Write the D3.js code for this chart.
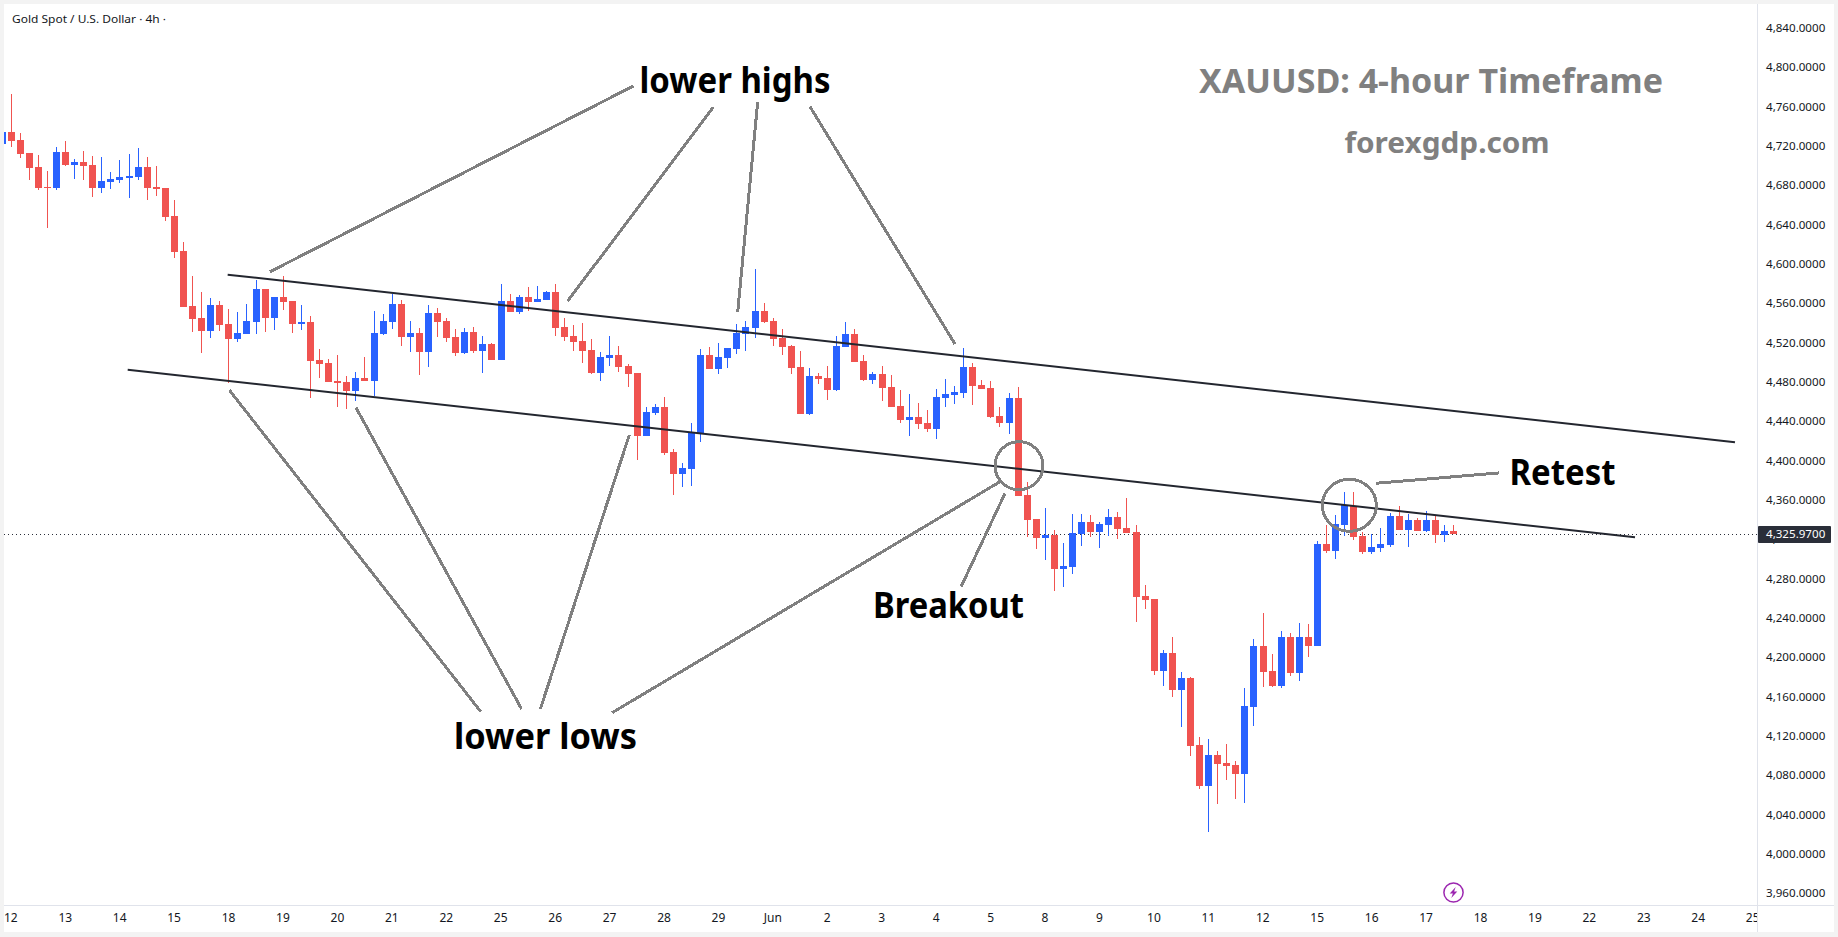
<!DOCTYPE html>
<html>
<head>
<meta charset="utf-8">
<title>XAUUSD 4-hour</title>
<script src="https://cdn.jsdelivr.net/npm/d3@7/dist/d3.min.js"></script>
<style>
  html, body { margin: 0; padding: 0; background: #fff; }
  svg { display: block; }
</style>
</head>
<body>
<svg id="chart" width="1838" height="937"></svg>
<script>
// Four-hour gold candles, one entry per bar, oldest first.
const opens = [
  4722.8,4735.0,4726.8,4713.6,4699.4,4679.0,4678.0,4714.6,4701.4,4704.5,
  4701.4,4678.0,4684.1,4686.2,4688.2,4689.2,4699.4,4679.0,4678.0,4649.6,
  4614.0,4558.1,4545.9,4532.6,4559.1,4539.8,4524.5,4529.6,4541.8,4575.3,
  4545.9,4567.2,4563.1,4539.8,4541.8,4503.2,4500.1,4481.8,4480.8,4471.6,
  4484.9,4481.8,4529.6,4541.8,4560.1,4526.5,4530.6,4511.3,4550.9,4542.8,
  4526.5,4510.3,4531.6,4512.3,4519.4,4503.2,4563.1,4552.0,4567.2,4562.1,
  4564.2,4572.3,4536.7,4527.6,4522.5,4513.3,4489.9,4505.2,4508.2,4497.0,
  4489.9,4425.9,4449.3,4455.4,4409.6,4387.2,4392.3,4428.9,4508.2,4494.0,
  4505.2,4514.3,4529.6,4535.7,4553.0,4542.8,4525.5,4517.4,4496.0,4448.2,
  4486.9,4484.8,4472.6,4516.4,4529.6,4502.1,4482.8,4488.9,4475.7,4456.4,
  4442.1,4445.2,4439.1,4433.0,4464.5,4467.6,4469.6,4496.0,4477.7,4474.7,
  4446.2,4439.1,4464.5,4365.9,4341.5,4322.2,4325.2,4290.6,4292.7,4326.2,
  4338.4,4328.3,4335.4,4343.5,4332.3,4328.3,4263.2,4260.1,4186.9,4205.2,
  4167.6,4179.8,4111.7,4070.0,4101.5,4093.4,4091.4,4082.2,4150.3,4212.4,
  4186.9,4171.7,4221.5,4184.9,4221.5,4212.4,4316.1,4309.0,4335.4,4354.7,
  4324.2,4307.9,4312.0,4315.1,4344.5,4330.3,4340.5,4329.3,4340.5,4325.2,
  4329.3
];
const highs = [
  4735.0,4773.6,4734.0,4713.6,4711.6,4695.3,4719.7,4725.8,4707.5,4715.7,
  4710.6,4709.6,4694.3,4706.5,4712.6,4718.7,4709.6,4700.4,4678.0,4665.8,
  4623.1,4588.6,4572.3,4566.2,4563.1,4555.0,4552.0,4560.1,4584.5,4575.3,
  4567.2,4588.6,4563.1,4559.1,4547.9,4514.3,4504.2,4508.2,4486.9,4491.0,
  4506.2,4553.0,4549.9,4570.3,4564.2,4542.8,4535.7,4559.1,4556.0,4545.9,
  4534.7,4535.7,4536.7,4527.6,4520.4,4580.4,4570.3,4569.2,4577.4,4578.4,
  4573.3,4580.4,4545.9,4538.7,4540.8,4524.5,4511.3,4527.6,4517.4,4499.1,
  4489.9,4455.4,4458.4,4465.5,4412.7,4398.4,4439.1,4514.3,4516.4,4520.4,
  4515.4,4539.8,4542.8,4595.7,4561.1,4545.9,4534.7,4518.4,4512.3,4495.0,
  4489.9,4497.0,4527.6,4541.8,4534.7,4508.2,4490.9,4497.0,4487.9,4472.6,
  4468.6,4459.4,4452.3,4473.7,4483.8,4476.7,4515.4,4500.1,4482.8,4481.8,
  4455.4,4469.6,4475.7,4379.1,4341.5,4352.7,4330.3,4317.1,4346.6,4346.6,
  4345.6,4338.4,4351.6,4348.6,4362.8,4335.4,4274.4,4260.1,4208.3,4221.5,
  4185.9,4180.8,4119.8,4117.8,4105.6,4112.7,4095.4,4169.7,4219.5,4245.9,
  4204.2,4227.6,4225.6,4235.7,4234.7,4319.1,4335.4,4345.6,4368.9,4368.9,
  4328.3,4326.2,4332.3,4347.6,4354.7,4346.6,4342.5,4349.6,4344.5,4335.4,
  4335.4
];
const lows = [
  4722.8,4719.7,4708.5,4686.2,4676.0,4637.4,4676.0,4700.4,4687.2,4686.2,
  4668.9,4673.0,4677.0,4683.1,4667.9,4686.2,4665.8,4669.9,4644.5,4606.9,
  4557.0,4531.6,4510.3,4525.5,4532.6,4479.8,4521.4,4529.6,4529.6,4531.6,
  4533.6,4554.0,4530.6,4533.6,4464.5,4484.9,4480.8,4455.4,4453.3,4461.5,
  4481.8,4466.5,4528.6,4534.7,4517.4,4511.3,4487.9,4496.0,4526.5,4521.4,
  4507.2,4509.2,4510.3,4489.9,4503.2,4503.2,4552.0,4549.9,4553.0,4562.1,
  4564.2,4527.6,4522.5,4512.3,4500.1,4488.9,4481.8,4497.0,4490.9,4475.7,
  4401.5,4425.9,4447.2,4406.6,4365.9,4374.0,4375.0,4419.8,4494.0,4488.9,
  4495.0,4509.2,4512.3,4525.5,4540.8,4517.4,4508.2,4488.9,4448.2,4447.2,
  4478.7,4462.5,4471.6,4516.4,4501.1,4481.8,4478.7,4461.5,4455.4,4439.1,
  4425.9,4433.0,4429.9,4422.8,4455.4,4458.4,4464.5,4457.4,4473.7,4444.2,
  4435.0,4427.9,4364.9,4323.2,4311.0,4299.8,4268.3,4272.3,4285.6,4314.0,
  4323.2,4312.0,4324.2,4321.1,4327.2,4236.8,4250.0,4182.9,4171.7,4160.5,
  4130.0,4100.5,4067.0,4023.2,4051.7,4076.1,4056.8,4052.7,4131.0,4170.7,
  4170.7,4169.7,4181.9,4176.8,4201.2,4212.4,4306.9,4300.8,4324.2,4320.1,
  4305.9,4305.9,4307.9,4313.0,4330.3,4313.0,4329.3,4328.3,4317.1,4318.1,
  4325.97
];
const closes = [
  4735.0,4725.8,4712.6,4698.4,4678.0,4678.0,4714.6,4701.4,4704.5,4700.4,
  4678.0,4685.2,4687.2,4689.2,4690.2,4699.4,4678.0,4677.0,4648.5,4613.0,
  4557.0,4544.8,4532.6,4559.1,4538.7,4524.5,4530.6,4542.8,4575.3,4545.9,
  4567.2,4562.1,4539.8,4541.8,4502.1,4499.1,4480.8,4479.8,4471.6,4484.9,
  4481.8,4530.6,4542.8,4560.1,4526.5,4530.6,4511.3,4550.9,4541.8,4525.5,
  4510.3,4531.6,4512.3,4519.4,4503.2,4563.1,4552.0,4567.2,4562.1,4565.2,
  4572.3,4535.7,4526.5,4521.4,4512.3,4489.9,4506.2,4508.2,4496.0,4488.9,
  4425.9,4450.3,4455.4,4408.6,4387.2,4393.3,4429.9,4508.2,4494.0,4506.2,
  4515.4,4530.6,4536.7,4553.0,4541.8,4524.5,4516.4,4495.0,4448.2,4486.9,
  4483.8,4472.6,4517.4,4529.6,4501.1,4482.8,4488.9,4474.7,4455.4,4442.1,
  4445.2,4438.1,4433.0,4465.5,4468.6,4470.6,4496.0,4476.7,4473.7,4445.2,
  4439.1,4464.5,4364.9,4340.5,4322.2,4325.2,4290.6,4293.7,4327.2,4338.4,
  4328.3,4336.4,4343.5,4331.3,4327.2,4262.2,4259.1,4186.9,4205.2,4167.6,
  4179.8,4110.7,4070.0,4101.5,4092.4,4090.3,4082.2,4151.4,4212.4,4185.9,
  4171.7,4221.5,4184.9,4221.5,4212.4,4316.1,4309.0,4336.4,4355.7,4323.2,
  4307.9,4313.0,4316.1,4344.5,4330.3,4340.5,4329.3,4340.5,4325.2,4329.3,
  4325.97
];

// Session labels along the time axis, one every six bars.
const sessionLabels = ["12","13","14","15","18","19","20","21","22","25","26","27","28","29","Jun","2","3","4","5","8","9","10","11","12","15","16","17","18","19","22","23","24","25"];
const priceTicks = d3.range(3960, 4841, 40);
const lastPrice = 4325.97;

// Hand-drawn analysis, anchored to bar number and price.
const channelLines = [
  [[24.87, 4589.9], [191.02, 4419.5]],
  [[13.85, 4493.3], [180.0, 4322.9]]
];
const leaderLines = [
  [[29.54, 4592.9], [69.58, 4781.7]],
  [[62.35, 4563.1], [78.40, 4760.1]],
  [[81.09, 4551.6], [83.29, 4765.2]],
  [[105.04, 4519.4], [89.06, 4760.7]],
  [[25.05, 4472.6], [52.75, 4145.8]],
  [[39.02, 4454.6], [57.27, 4148.3]],
  [[69.14, 4426.9], [59.34, 4148.3]],
  [[110.0, 4379.4], [67.24, 4144.5]],
  [[110.56, 4367.6], [105.71, 4272.6]],
  [[151.45, 4377.8], [164.97, 4388.3]]
];
const circleMarks = [
  { bar: 112.10, price: 4395.7, rx: 24, ry: 24 },
  { bar: 148.51, price: 4355.4, rx: 27, ry: 26 }
];
const noteLabels = [
  { text: "lower highs", x: 735, y: 93, size: 35, len: 191, fill: "#000" },
  { text: "lower lows", x: 545.5, y: 749, size: 35, len: 183, fill: "#000" },
  { text: "Breakout", x: 948.5, y: 618, size: 35, len: 151, fill: "#000" },
  { text: "Retest", x: 1562.5, y: 485, size: 35, len: 106, fill: "#000" },
  { text: "XAUUSD: 4-hour Timeframe", x: 1431, y: 93, size: 34, len: 464, fill: "#808080" },
  { text: "forexgdp.com", x: 1447, y: 153, size: 29, len: 205, fill: "#808080" }
];

const W = 1838, H = 937;
const panel = { left: 4, top: 4, right: 1757, bottom: 905, outerRight: 1834, outerBottom: 932 };
const bodyW = 7;
const uiFont = "'Noto Sans', sans-serif";
const uiSize = 11.6;
const ink = "#131722";

const x = d3.scaleLinear().domain([1, 160]).range([11.12, 1453.57]);
const y = d3.scaleLinear().domain([4840, 3960]).range([28.7, 894.2]);
const barX = i => Math.floor(x(i)) + 0.5;

const svg = d3.select("#chart");
svg.append("rect").attr("width", W).attr("height", H).attr("fill", "#f3f3f3");
svg.append("rect")
  .attr("x", panel.left).attr("y", panel.top)
  .attr("width", panel.outerRight - panel.left).attr("height", panel.outerBottom - panel.top)
  .attr("fill", "#fff");

const defs = svg.append("defs");
defs.append("clipPath").attr("id", "plot-clip").append("rect")
  .attr("x", panel.left).attr("y", panel.top)
  .attr("width", panel.right - panel.left).attr("height", panel.bottom - panel.top);
defs.append("clipPath").attr("id", "time-clip").append("rect")
  .attr("x", panel.left).attr("y", panel.bottom)
  .attr("width", panel.right - panel.left).attr("height", panel.outerBottom - panel.bottom);

// Panel separators
svg.append("line").attr("x1", panel.right + 0.5).attr("x2", panel.right + 0.5)
  .attr("y1", panel.top).attr("y2", panel.outerBottom).attr("stroke", "#e0e3eb");
svg.append("line").attr("x1", panel.left).attr("x2", panel.outerRight)
  .attr("y1", panel.bottom + 0.5).attr("y2", panel.bottom + 0.5).attr("stroke", "#e0e3eb");

const plot = svg.append("g").attr("clip-path", "url(#plot-clip)");

// Last-price guide
plot.append("line")
  .attr("x1", panel.left).attr("x2", panel.right)
  .attr("y1", Math.round(y(lastPrice)) + 0.5).attr("y2", Math.round(y(lastPrice)) + 0.5)
  .attr("stroke", "#2a2e39").attr("stroke-dasharray", "1,3");

// Candles
const candles = plot.append("g").selectAll("g").data(opens).join("g")
  .attr("fill", (o, i) => closes[i] >= o ? "#2962ff" : "#f05350");
candles.append("rect")
  .attr("x", (o, i) => barX(i) - 0.5)
  .attr("width", 1)
  .attr("y", (o, i) => Math.round(y(highs[i])))
  .attr("height", (o, i) => Math.max(1, Math.round(y(lows[i])) - Math.round(y(highs[i]))));
candles.append("rect")
  .attr("x", (o, i) => barX(i) - bodyW / 2)
  .attr("width", bodyW)
  .attr("y", (o, i) => Math.round(y(Math.max(o, closes[i]))))
  .attr("height", (o, i) => Math.max(1, Math.round(y(Math.min(o, closes[i]))) - Math.round(y(Math.max(o, closes[i])))));

// Channel boundaries
const pathOf = d3.line().x(d => x(d[0])).y(d => y(d[1]));
plot.append("g").selectAll("path").data(channelLines).join("path")
  .attr("d", pathOf).attr("fill", "none").attr("stroke", "#23262f").attr("stroke-width", 2);

// Callout leaders and circles
const notes = svg.append("g").attr("clip-path", "url(#plot-clip)");
notes.append("g").selectAll("path").data(leaderLines).join("path")
  .attr("d", pathOf).attr("fill", "none").attr("stroke", "#808080").attr("stroke-width", 3)
  .attr("shape-rendering", "crispEdges");
notes.append("g").selectAll("ellipse").data(circleMarks).join("ellipse")
  .attr("cx", d => x(d.bar)).attr("cy", d => y(d.price))
  .attr("rx", d => d.rx).attr("ry", d => d.ry)
  .attr("fill", "none").attr("stroke", "#808080").attr("stroke-width", 3)
  .attr("shape-rendering", "crispEdges");

notes.append("g").selectAll("text").data(noteLabels).join("text")
  .attr("x", d => d.x).attr("y", d => d.y)
  .attr("text-anchor", "middle")
  .attr("textLength", d => d.len).attr("lengthAdjust", "spacingAndGlyphs")
  .attr("font-family", "'Noto Sans', sans-serif").attr("font-weight", 700)
  .attr("font-size", d => d.size).attr("fill", d => d.fill)
  .text(d => d.text);

// Price axis
const priceAxis = d3.axisRight(y)
  .tickValues(priceTicks)
  .tickSize(0).tickPadding(0)
  .tickFormat(d => d3.format(",.4f")(d));
const priceG = svg.append("g")
  .attr("transform", `translate(${panel.right + 9},-1)`)
  .call(priceAxis);
priceG.select(".domain").remove();
priceG.selectAll("text").attr("font-family", uiFont).attr("font-size", uiSize).attr("fill", ink);

// Time axis
const timeAxis = d3.axisBottom(x)
  .tickValues(sessionLabels.map((_, k) => 1 + 6 * k))
  .tickSize(0).tickPadding(0)
  .tickFormat(d => sessionLabels[(d - 1) / 6]);
const timeClip = svg.append("g").attr("clip-path", "url(#time-clip)");
const timeG = timeClip.append("g")
  .attr("transform", `translate(-0.8,${panel.bottom + 8})`)
  .call(timeAxis);
timeG.select(".domain").remove();
timeG.selectAll("text").attr("font-family", uiFont).attr("font-size", 12).attr("fill", ink);

// Last-price tag
const tagY = y(lastPrice);
svg.append("rect")
  .attr("x", panel.right + 1).attr("y", Math.round(tagY) - 8)
  .attr("width", 73).attr("height", 17).attr("rx", 1).attr("fill", "#2a2e39");
svg.append("text")
  .attr("x", panel.right + 9).attr("y", Math.round(tagY) + 4.2)
  .attr("font-family", uiFont).attr("font-size", uiSize).attr("fill", "#fff")
  .text(d3.format(",.4f")(lastPrice));

// Session-break marker under the newest bar
const bolt = svg.append("g").attr("transform", `translate(${barX(160)},892.5)`);
bolt.append("circle").attr("r", 9.6).attr("fill", "#fff").attr("stroke", "#9c27b0").attr("stroke-width", 1.5);
bolt.append("path").attr("d", "M2.2,-5.5 L-3.8,1 L-0.6,1 L-2.2,5.5 L3.8,-1 L0.6,-1 Z").attr("fill", "#9c27b0");

// Symbol caption
svg.append("text").attr("x", 12).attr("y", 23)
  .attr("font-family", uiFont).attr("font-size", 11.6).attr("fill", ink)
  .attr("textLength", 154).attr("lengthAdjust", "spacingAndGlyphs")
  .text("Gold Spot / U.S. Dollar · 4h ·");
</script>
</body>
</html>
